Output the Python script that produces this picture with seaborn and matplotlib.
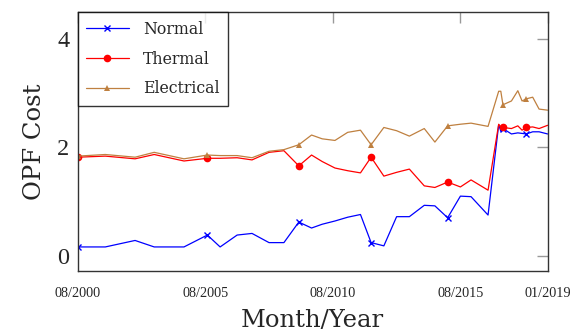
import matplotlib
matplotlib.use("Agg")
import matplotlib.pyplot as plt
import seaborn as sns
import pandas as pd

# months since 08/2000
months = [0, 13, 27, 36, 50, 61, 67, 75, 82, 90, 97, 104, 110, 115, 121, 127, 133, 138,
          144, 150, 156, 163, 168, 174, 180, 185, 193, 198, 199, 200, 204, 207, 209, 211,
          214, 217, 221]

normal = [0.16, 0.16, 0.28, 0.16, 0.16, 0.38, 0.16, 0.38, 0.41, 0.24, 0.24, 0.62, 0.51,
          0.58, 0.64, 0.71, 0.76, 0.24, 0.18, 0.72, 0.72, 0.93, 0.92, 0.70, 1.10, 1.09,
          0.75, 2.42, 2.30, 2.35, 2.25, 2.27, 2.26, 2.25, 2.29, 2.29, 2.25]

thermal = [1.82, 1.84, 1.79, 1.87, 1.75, 1.80, 1.80, 1.81, 1.77, 1.91, 1.94, 1.66, 1.86,
           1.74, 1.62, 1.57, 1.53, 1.82, 1.47, 1.54, 1.60, 1.29, 1.26, 1.36, 1.27, 1.40,
           1.21, 2.43, 2.38, 2.37, 2.35, 2.40, 2.32, 2.37, 2.38, 2.35, 2.41]

electrical = [1.84, 1.87, 1.82, 1.91, 1.79, 1.86, 1.85, 1.85, 1.81, 1.93, 1.96, 2.05, 2.23,
              2.16, 2.13, 2.28, 2.32, 2.05, 2.37, 2.31, 2.21, 2.35, 2.10, 2.40, 2.43, 2.45,
              2.39, 3.04, 3.04, 2.79, 2.86, 3.05, 2.86, 2.90, 2.93, 2.71, 2.69]

mark_idx = [0, 5, 11, 17, 23, 29, 33]

tick_pos = [0, 60, 120, 180, 221]
tick_labels = ["08/2000", "08/2005", "08/2010", "08/2015", "01/2019"]
ytick_pos = [0, 2, 4]

sns.set_style("white")
plt.rcParams["font.family"] = ["DejaVu Serif"]
num_font = ["Liberation Serif", "DejaVu Serif"]

fig = plt.figure(figsize=(5.71, 3.33), dpi=100)
ax = fig.add_axes([0.136, 0.187, 0.823, 0.776])

df = pd.DataFrame({"month": months, "Normal": normal, "Thermal": thermal,
                   "Electrical": electrical})

sns.lineplot(data=df, x="month", y="Normal", ax=ax, color="#0000ff", lw=0.9,
             marker="x", markersize=4, markeredgewidth=1.0, markeredgecolor="#0000ff",
             markevery=mark_idx, label="Normal")
sns.lineplot(data=df, x="month", y="Thermal", ax=ax, color="#ff0000", lw=0.9,
             marker="o", markersize=5.5, markeredgewidth=0, markevery=mark_idx,
             label="Thermal")
sns.lineplot(data=df, x="month", y="Electrical", ax=ax, color="#bf8040", lw=0.9,
             marker="^", markersize=5, markeredgewidth=0, markevery=mark_idx,
             label="Electrical")

ax.set_xlim(0, 221)
ax.set_ylim(-0.28, 4.5)
ax.set_xticks(tick_pos)
ax.set_xticklabels(tick_labels, fontsize=10.3, family=num_font)
ax.set_yticks(ytick_pos)
ax.set_yticklabels([str(v) for v in ytick_pos], fontsize=17.5, family=num_font)
ax.tick_params(axis="both", direction="in", length=8, width=1.0, color="#999999",
               top=True, right=True, pad=6)
ax.tick_params(axis="x", pad=12)
for s in ax.spines.values():
    s.set_color("#333333")
    s.set_linewidth(1.0)

ax.set_xlabel("Month/Year", fontsize=17.5, labelpad=6)
ax.set_ylabel("OPF Cost", fontsize=17.5, labelpad=8)

leg = ax.legend(loc="upper left", prop={"family": "DejaVu Serif", "size": 11.3},
                frameon=True, fancybox=False, borderaxespad=0, handlelength=2.7,
                borderpad=0.55, labelspacing=0.8, handletextpad=0.9)
leg.get_frame().set_edgecolor("black")
leg.get_frame().set_linewidth(1.0)

fig.savefig("out.png", dpi=100)
